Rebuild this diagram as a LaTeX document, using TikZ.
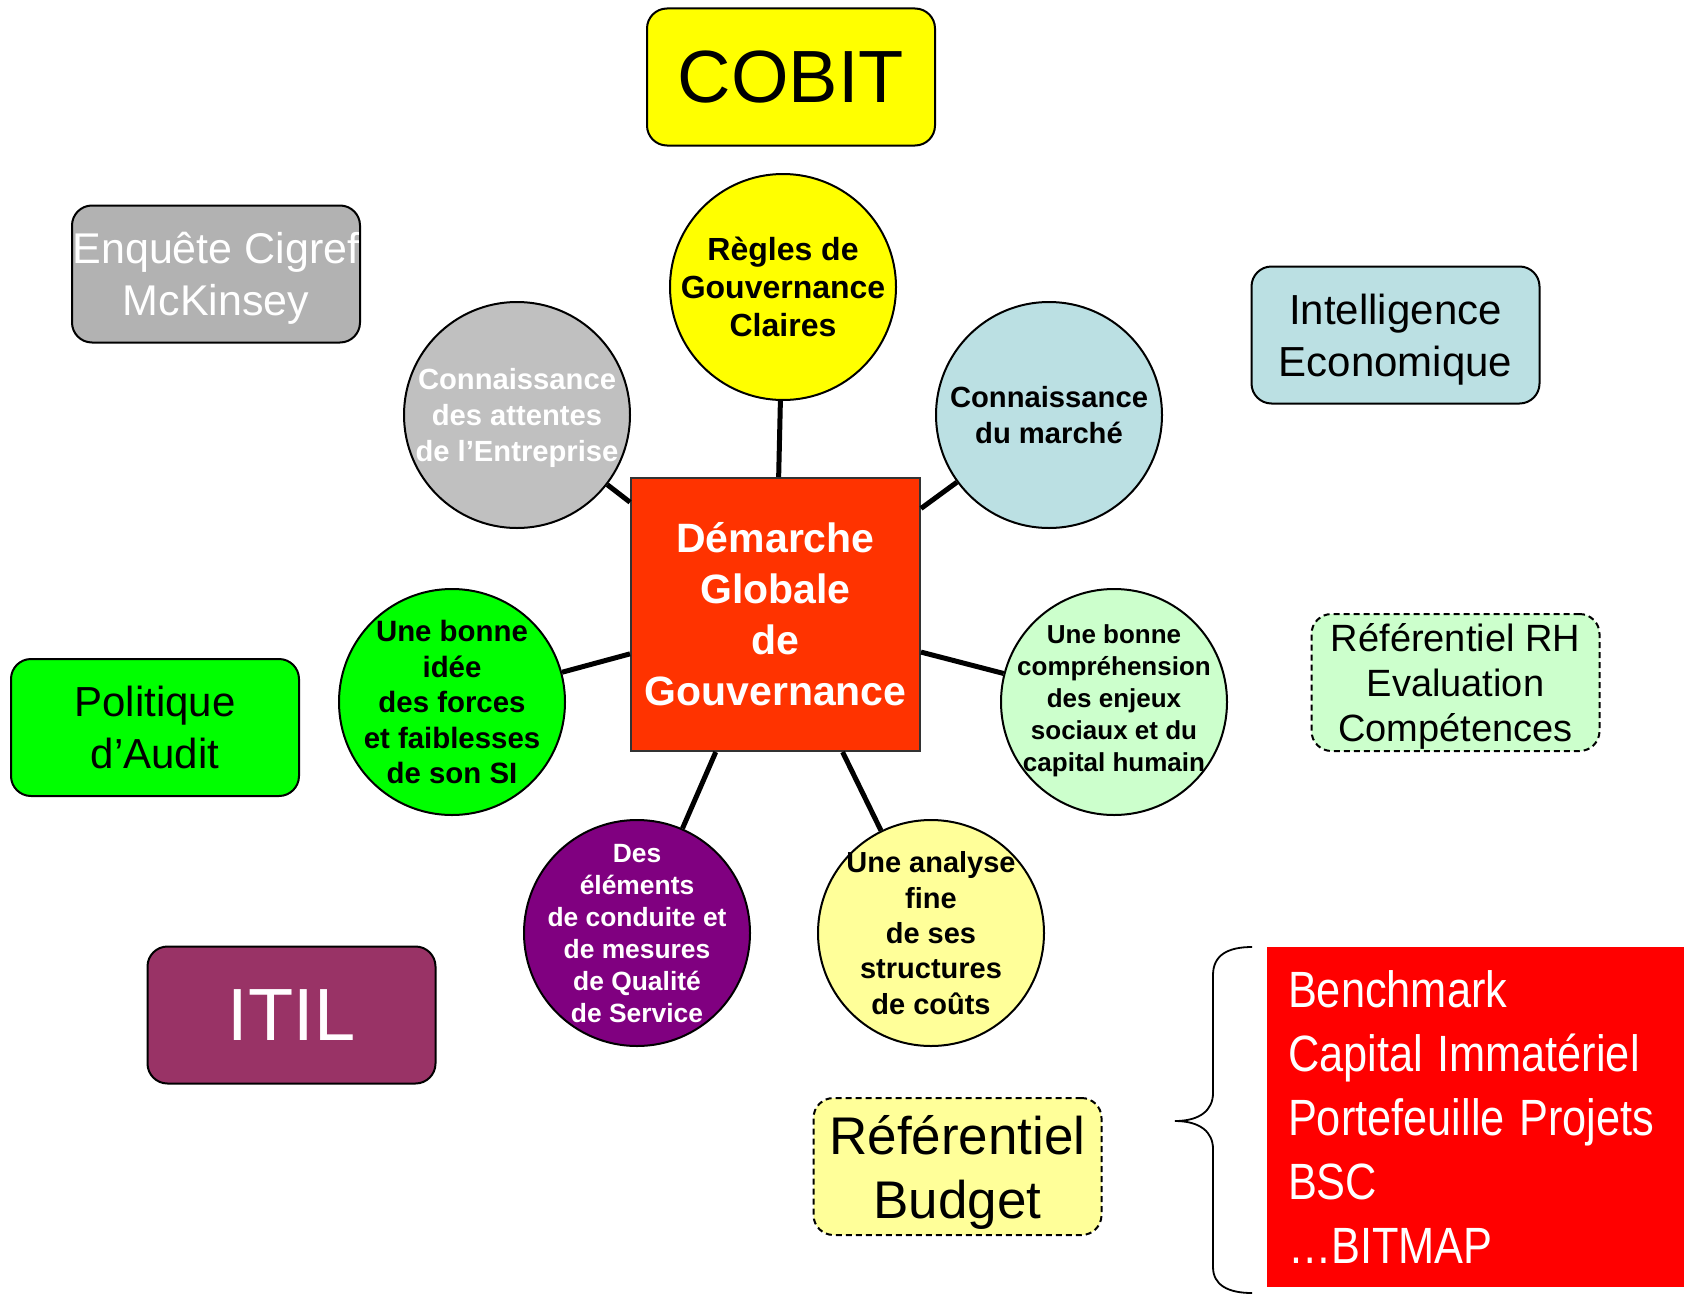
\documentclass[tikz,border=0pt]{standalone}
\usepackage{fontspec}
\setmainfont{Liberation Sans}
\newcommand{\taillepolice}[2]{\fontsize{#1pt}{#2pt}\selectfont}

\definecolor{jaunecobit}{HTML}{FFFF00}
\definecolor{griscigref}{HTML}{B2B2B2}
\definecolor{grisattentes}{HTML}{C0C0C0}
\definecolor{bleuclair}{HTML}{BBE0E3}
\definecolor{vertvif}{HTML}{00FF00}
\definecolor{vertpale}{HTML}{CCFFCC}
\definecolor{jaunepale}{HTML}{FFFF99}
\definecolor{prune}{HTML}{993366}
\definecolor{violet}{HTML}{800080}
\definecolor{rougeorange}{HTML}{FF3300}
\definecolor{rougevif}{HTML}{FF0000}

\tikzset{
  bulle/.style={circle, draw=black, line width=1pt, minimum size=113pt, inner sep=0pt},
  textebulle/.style={inner sep=0pt, align=center, text depth=0pt},
  cadre/.style={rounded corners=10pt, draw=black, line width=1pt, minimum width=144pt, minimum height=68.5pt, inner sep=0pt, align=center, text depth=0pt},
  cadrepointille/.style={cadre, dash pattern=on 3pt off 2pt},
  lien/.style={line width=2.5pt},
}

\begin{document}
\begin{tikzpicture}[x=0.5pt,y=0.5pt,yscale=-1,xscale=1]
\useasboundingbox (0,0) rectangle (1684,1295);

%Shape: Square (centre)
\node [draw={rgb,255:red,51;green,51;blue,51}, line width=1pt, fill=rougeorange, minimum width=144.5pt, minimum height=136.5pt, inner sep=0pt, align=center, text=white, font=\bfseries\taillepolice{20.5}{25.5}] (demarche) at (775.5,614.5) {Démarche\\Globale\\de\\Gouvernance};

%Shape: Circles
\node [bulle, fill=jaunecobit] (regles) at (783,287) {};
\node [bulle, fill=grisattentes] (attentes) at (517,415) {};
\node [bulle, fill=bleuclair] (marche) at (1049,415) {};
\node [bulle, fill=vertvif] (forces) at (452,702) {};
\node [bulle, fill=vertpale] (enjeux) at (1114,702) {};
\node [bulle, fill=violet] (qualite) at (637,933) {};
\node [bulle, fill=jaunepale] (couts) at (931,933) {};

% Text Node
\node [textebulle, font=\bfseries\taillepolice{16}{19}] (regles-t) at (regles) {Règles de\\Gouvernance\\Claires};
\node [textebulle, text=white, font=\bfseries\taillepolice{14.6}{18}] (attentes-t) at (attentes) {Connaissance\\des attentes\\de l’Entreprise};
\node [textebulle, font=\bfseries\taillepolice{14.6}{18}] (marche-t) at (marche) {Connaissance\\du marché};
\node [textebulle, font=\bfseries\taillepolice{14.7}{17.7}] (forces-t) at (forces) {Une bonne\\idée\\des forces\\et faiblesses\\de son SI};
\node [textebulle, font=\bfseries\taillepolice{13}{16}] (enjeux-t) at ([yshift=-2pt]enjeux) {Une bonne\\compréhension\\des enjeux\\sociaux et du\\capital humain};
\node [textebulle, text=white, font=\bfseries\taillepolice{13.2}{16}] (qualite-t) at (qualite) {Des\\éléments\\de conduite et\\de mesures\\de Qualité\\de Service};
\node [textebulle, font=\bfseries\taillepolice{14.5}{17.7}] (couts-t) at (couts) {Une analyse\\fine\\de ses\\structures\\de coûts};

%Straight Lines
\draw [lien] (demarche) -- (regles);
\draw [lien] (demarche) -- (attentes);
\draw [lien] (demarche) -- (marche);
\draw [lien] (demarche) -- (forces);
\draw [lien] (demarche) -- (enjeux);
\draw [lien] (demarche) -- (qualite);
\draw [lien] (demarche) -- (couts);

%Shape: Rounded Rectangles
\node [cadre, fill=jaunecobit, font=\taillepolice{37}{44}] (cobit) at (791,77) {COBIT};
\node [cadre, fill=griscigref, text=white, font=\taillepolice{21.5}{26}] (cigref) at (216,274) {Enquête Cigref\\McKinsey};
\node [cadre, fill=bleuclair, font=\taillepolice{21}{26}] (intelligence) at (1395.5,335) {Intelligence\\Economique};
\node [cadre, fill=vertvif, font=\taillepolice{21}{26}] (audit) at (155,727.5) {Politique\\d’Audit};
\node [cadre, fill=prune, text=white, font=\taillepolice{37}{44}] (itil) at (291.5,1015) {ITIL};
\node [cadrepointille, fill=vertpale, font=\taillepolice{19}{22.5}] (rh) at (1455.5,682.5) {Référentiel RH\\Evaluation\\Compétences};
\node [cadrepointille, fill=jaunepale, font=\taillepolice{26.5}{32}] (budget) at (957.5,1166.5) {Référentiel\\Budget};

%Shape: Rectangle
\node [fill=rougevif, text=white, text width=187.5pt, inner xsep=10.5pt, inner ysep=0pt, minimum height=170pt, align=left, font=\taillepolice{25.5}{32}] (outils) at (1475.5,1117) {\raisebox{-3pt}[\height][\depth]{\scalebox{0.85}[1]{\begin{tabular}{@{}l@{}}Benchmark\\Capital Immatériel\\Portefeuille Projets\\BSC\\\dots BITMAP\end{tabular}}}};

%Shape: Brace
\coordinate (acch) at (1252,947);
\coordinate (accp) at (1175,1121);
\coordinate (accb) at (1252,1293);
\draw [line width=0.9pt] (acch) .. controls (1228,947) and (1213,955) .. (1213,975) -- (1213,1093) .. controls (1213,1110) and (1200,1121) .. (accp) .. controls (1200,1121) and (1213,1132) .. (1213,1149) -- (1213,1267) .. controls (1213,1285) and (1228,1293) .. (accb);

\end{tikzpicture}
\end{document}
